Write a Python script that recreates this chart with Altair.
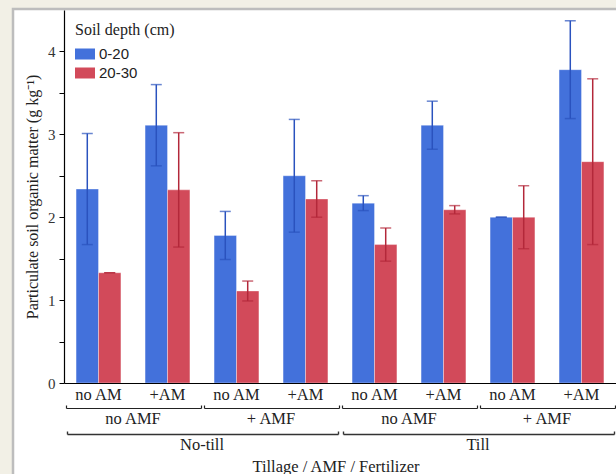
import altair as alt
import pandas as pd

# ---- data ----
cats = ["NT-noAMF-noAM", "NT-noAMF-AM", "NT-AMF-noAM", "NT-AMF-AM",
        "T-noAMF-noAM", "T-noAMF-AM", "T-AMF-noAM", "T-AMF-AM"]
am_labels = ["no AM", "+AM", "no AM", "+AM", "no AM", "+AM", "no AM", "+AM"]
amf_groups = ["no AMF", "+ AMF", "no AMF", "+ AMF"]
tillage_groups = ["No-till", "Till"]
depths = ["0-20", "20-30"]
mean_0_20 = [2.34, 3.11, 1.78, 2.50, 2.17, 3.11, 2.00, 3.78]
err_0_20 = [0.67, 0.49, 0.29, 0.68, 0.09, 0.29, 0.00, 0.59]
mean_20_30 = [1.33, 2.33, 1.11, 2.22, 1.67, 2.09, 2.00, 2.67]
err_20_30 = [0.00, 0.69, 0.12, 0.22, 0.20, 0.05, 0.38, 1.00]

rows = []
for i, c in enumerate(cats):
    rows.append({"cat": c, "depth": depths[0], "mean": mean_0_20[i],
                 "lo": mean_0_20[i] - err_0_20[i], "hi": mean_0_20[i] + err_0_20[i]})
    rows.append({"cat": c, "depth": depths[1], "mean": mean_20_30[i],
                 "lo": mean_20_30[i] - err_20_30[i], "hi": mean_20_30[i] + err_20_30[i]})
df = pd.DataFrame(rows)

lvl1 = pd.DataFrame({"cat": cats, "label": am_labels})
lvl2 = pd.DataFrame({"first": cats[0::2], "last": cats[1::2], "label": amf_groups})
lvl3 = pd.DataFrame({"first": cats[0::4], "last": cats[3::4], "label": tillage_groups})

SERIF = "Liberation Serif"
SANS = "Liberation Sans"
W, H = 552, 373
STEP = W / 8.0

xscale = alt.Scale(domain=cats, paddingInner=0.35, paddingOuter=0.175)
X = alt.X("cat:N", sort=cats, scale=xscale,
          axis=alt.Axis(labels=False, ticks=False, title=None, domainColor="black",
                        domainWidth=1.2, zindex=1))
Y = alt.Y("mean:Q", scale=alt.Scale(domain=[0, 4.5], nice=False),
          axis=alt.Axis(values=[0, 0.5, 1, 1.5, 2, 2.5, 3, 3.5, 4],
                        labelExpr="datum.value % 1 == 0 ? format(datum.value, 'd') : ''",
                        title="Particulate soil organic matter (g kg⁻¹)",
                        titleFont=SERIF, titleFontSize=16, titleFontWeight="normal",
                        titleColor="#222", titlePadding=7,
                        labelFont=SERIF, labelFontSize=15, labelColor="#333",
                        labelPadding=4, tickSize=5, tickColor="black",
                        domainColor="black", domainWidth=1.2, grid=False, zindex=1))

# white chart frame (decorative)
frame = alt.Chart(pd.DataFrame({"a": [0]})).mark_rect(
    fill="white", stroke="#bdbdbd", strokeWidth=2.5
).encode(x=alt.value(-51), x2=alt.value(W + 40), y=alt.value(-1), y2=alt.value(H + 150))

bars = alt.Chart(df).mark_bar(stroke="white", strokeOpacity=0.35, strokeWidth=1).encode(
    x=X, y=Y,
    xOffset=alt.XOffset("depth:N", sort=depths, scale=alt.Scale(paddingInner=0, paddingOuter=0)),
    color=alt.Color("depth:N", sort=depths,
                    scale=alt.Scale(domain=depths, range=["#4371DB", "#D24A5A"]),
                    legend=alt.Legend(
                        title="Soil depth (cm)", orient="none", legendX=11, legendY=12,
                        titleFont=SERIF, titleFontSize=16, titleFontWeight="normal",
                        titleColor="#222", titlePadding=6,
                        labelFont=SANS, labelFontSize=15, labelColor="#222",
                        labelOffset=4, rowPadding=1,
                        symbolType="M-1,-0.55L1,-0.55L1,0.55L-1,0.55Z",
                        symbolSize=400, symbolStrokeWidth=0, padding=0, zindex=2)),
)

errcol = alt.condition(alt.datum.depth == "0-20", alt.value("#2A52BE"), alt.value("#B3283A"))
err_rule = alt.Chart(df).mark_rule(strokeWidth=1.5).encode(
    x=X, xOffset=alt.XOffset("depth:N", sort=depths),
    y=alt.Y("lo:Q"), y2="hi:Q", color=errcol)
err_lo = alt.Chart(df).mark_tick(size=11, thickness=1.5).encode(
    x=X, xOffset=alt.XOffset("depth:N", sort=depths), y="lo:Q", color=errcol)
err_hi = alt.Chart(df).mark_tick(size=11, thickness=1.5).encode(
    x=X, xOffset=alt.XOffset("depth:N", sort=depths), y="hi:Q", color=errcol)

t1 = alt.Chart(lvl1).mark_text(font=SERIF, fontSize=16.5, color="#222", baseline="alphabetic").encode(
    x=X, y=alt.value(H + 17), text="label:N")

def bracket(data, ypos, off_l, off_r, tick_h, color, width):
    h = alt.Chart(data).mark_rule(color=color, strokeWidth=width, xOffset=off_l, x2Offset=off_r).encode(
        x=alt.X("first:N", sort=cats, scale=xscale), x2="last:N", y=alt.value(ypos))
    tl = alt.Chart(data).mark_rule(color=color, strokeWidth=width, xOffset=off_l).encode(
        x=alt.X("first:N", sort=cats, scale=xscale), y=alt.value(ypos), y2=alt.value(ypos - tick_h))
    tr = alt.Chart(data).mark_rule(color=color, strokeWidth=width, xOffset=off_r).encode(
        x=alt.X("last:N", sort=cats, scale=xscale), y=alt.value(ypos), y2=alt.value(ypos - tick_h))
    return [h, tl, tr]

b2 = bracket(lvl2, H + 25.5, -32, 34, 3, "#222", 1.2)
b3 = bracket(lvl3, H + 51.5, -31, 33, 3, "#333", 1.4)

t2 = alt.Chart(lvl2).mark_text(font=SERIF, fontSize=16.5, color="#222", baseline="alphabetic",
                               xOffset=STEP / 2).encode(
    x=alt.X("first:N", sort=cats, scale=xscale), y=alt.value(H + 41), text="label:N")
t3 = alt.Chart(lvl3).mark_text(font=SERIF, fontSize=16.5, color="#222", baseline="alphabetic",
                               xOffset=STEP * 1.5).encode(
    x=alt.X("first:N", sort=cats, scale=xscale), y=alt.value(H + 67), text="label:N")
title = alt.Chart(pd.DataFrame({"t": ["Tillage / AMF / Fertilizer"]})).mark_text(
    font=SERIF, fontSize=16.5, color="#222", baseline="alphabetic").encode(
    x=alt.value(W / 2 - 4), y=alt.value(H + 88.5), text="t:N")

chart = alt.layer(frame, bars, err_rule, err_lo, err_hi, t1, *b2, *b3, t2, t3, title).properties(
    width=W, height=H,
    autosize=alt.AutoSizeParams(type="none"),
    padding={"left": 64, "top": 10, "right": 0, "bottom": 91},
    background="#f2f0e6",
).configure_view(stroke=None)

chart.save("out.html", embed_options={"renderer": "svg", "actions": False})
